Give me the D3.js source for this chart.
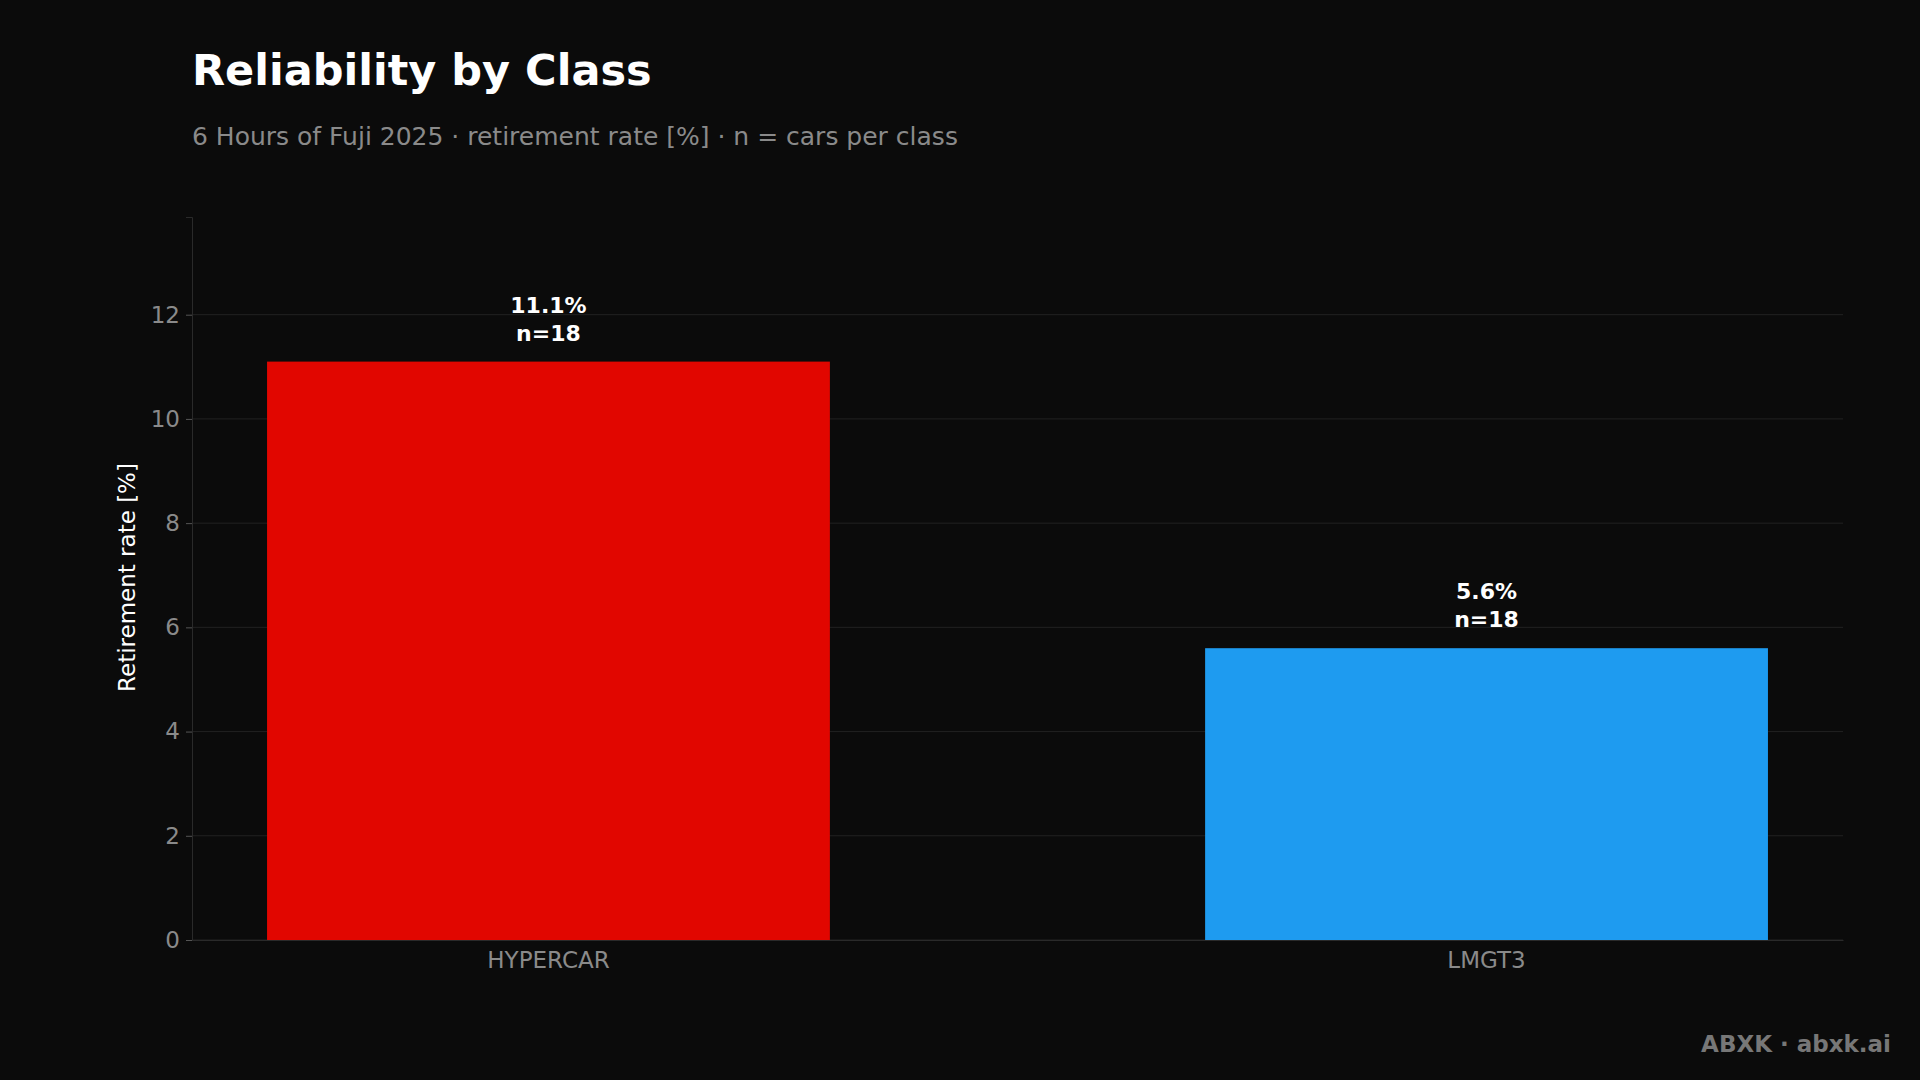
<!DOCTYPE html>
<html><head><meta charset="utf-8">
<script src="https://cdn.jsdelivr.net/npm/d3@7"></script>
<style>body{margin:0;background:#0b0b0b;}svg{display:block;font-family:"DejaVu Sans",sans-serif;}</style>
</head><body><svg id="c" width="1920" height="1080"></svg>
<script>
const categories = ["HYPERCAR","LMGT3"];
const rates = [11.1, 5.6];
const counts = [18, 18];
const colors = ["#e10600","#1e9bf0"];
const yTicks = [0,2,4,6,8,10,12];

const svg = d3.select("#c");
svg.append("rect").attr("width",1920).attr("height",1080).attr("fill","#0b0b0b");
const L=192,R=1843,T=217,B=940;
const x = d3.scaleBand().domain(categories).range([L,R]).paddingInner(0.4).paddingOuter(0.08);
const y = d3.scaleLinear().domain([0,13.875]).range([B,T]);

svg.append("text").attr("x",192).attr("y",85).attr("fill","#fff").attr("font-size",43).attr("font-weight","bold").text("Reliability by Class");
svg.append("text").attr("x",192).attr("y",145).attr("fill","#8a8a8a").attr("font-size",25).text("6 Hours of Fuji 2025 · retirement rate [%] · n = cars per class");

const g = svg.append("g");
g.selectAll(".grid").data(yTicks).join("line").attr("x1",L).attr("x2",R).attr("y1",d=>y(d)).attr("y2",d=>y(d)).attr("stroke","#222").attr("stroke-width",1);

const ya = svg.append("g").attr("transform",`translate(${L},0)`).call(d3.axisLeft(y).tickValues(yTicks).tickSize(6).tickPadding(6));
ya.select(".domain").attr("stroke","#2a2a2a");
ya.selectAll(".tick line").attr("stroke","#555");
ya.selectAll(".tick text").attr("fill","#8a8a8a").attr("font-size",23).attr("font-family","DejaVu Sans");

const xa = svg.append("g").attr("transform",`translate(0,${B})`).call(d3.axisBottom(x).tickSize(0).tickPadding(12));
xa.select(".domain").attr("stroke","#2a2a2a");
xa.selectAll(".tick text").attr("fill","#8a8a8a").attr("font-size",23).attr("font-family","DejaVu Sans");

svg.append("text").attr("transform",`translate(135,${(T+B)/2-1}) rotate(-90)`).attr("text-anchor","middle").attr("fill","#fff").attr("font-size",23).text("Retirement rate [%]");

const data = categories.map((c,i)=>({c,v:rates[i],n:counts[i],col:colors[i]}));
svg.selectAll(".bar").data(data).join("rect").attr("x",d=>x(d.c)).attr("width",x.bandwidth()).attr("y",d=>y(d.v)).attr("height",d=>B-y(d.v)).attr("fill",d=>d.col);
const lab = svg.selectAll(".lab").data(data).join("text").attr("text-anchor","middle").attr("fill","#fff").attr("font-size",22).attr("font-weight","bold");
lab.append("tspan").attr("x",d=>x(d.c)+x.bandwidth()/2).attr("y",d=>y(d.v)-49).text(d=>d.v.toFixed(1)+"%");
lab.append("tspan").attr("x",d=>x(d.c)+x.bandwidth()/2).attr("y",d=>y(d.v)-21).text(d=>"n="+d.n);

svg.append("text").attr("x",1891).attr("y",1052).attr("text-anchor","end").attr("fill","#777").attr("font-size",23).attr("font-weight","bold").text("ABXK · abxk.ai");
</script></body></html>
